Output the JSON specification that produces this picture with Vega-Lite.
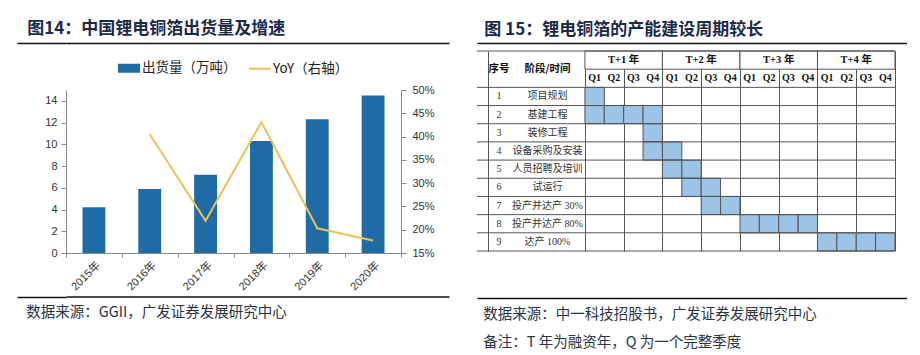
{
  "$schema": "https://vega.github.io/schema/vega-lite/v6.json",
  "background": "white",
  "padding": {"left": 16, "top": 20, "right": 0, "bottom": 0},
  "datasets": {
    "ship": [
      {"year": "2015年", "ship": 4.2, "yoy": null},
      {"year": "2016年", "ship": 5.9, "yoy": 0.405},
      {"year": "2017年", "ship": 7.2, "yoy": 0.219},
      {"year": "2018年", "ship": 10.3, "yoy": 0.431},
      {"year": "2019年", "ship": 12.3, "yoy": 0.203},
      {"year": "2020年", "ship": 14.5, "yoy": 0.177}
    ],
    "stages": [
      {"no": "1", "name": "项目规划"},
      {"no": "2", "name": "基建工程"},
      {"no": "3", "name": "装修工程"},
      {"no": "4", "name": "设备采购及安装"},
      {"no": "5", "name": "人员招聘及培训"},
      {"no": "6", "name": "试运行"},
      {"no": "7", "name": "投产并达产 30%"},
      {"no": "8", "name": "投产并达产 80%"},
      {"no": "9", "name": "达产 100%"}
    ],
    "cells": [
      {"no": "1", "from": 0, "to": 1},
      {"no": "2", "from": 0, "to": 1},
      {"no": "2", "from": 1, "to": 2},
      {"no": "2", "from": 2, "to": 3},
      {"no": "2", "from": 3, "to": 4},
      {"no": "3", "from": 3, "to": 4},
      {"no": "4", "from": 3, "to": 4},
      {"no": "4", "from": 4, "to": 5},
      {"no": "5", "from": 4, "to": 5},
      {"no": "5", "from": 5, "to": 6},
      {"no": "6", "from": 5, "to": 6},
      {"no": "6", "from": 6, "to": 7},
      {"no": "7", "from": 6, "to": 7},
      {"no": "7", "from": 7, "to": 8},
      {"no": "8", "from": 8, "to": 9},
      {"no": "8", "from": 9, "to": 10},
      {"no": "8", "from": 10, "to": 11},
      {"no": "8", "from": 11, "to": 12},
      {"no": "9", "from": 12, "to": 13},
      {"no": "9", "from": 13, "to": 14},
      {"no": "9", "from": 14, "to": 15},
      {"no": "9", "from": 15, "to": 16}
    ],
    "years": [
      {"year": "T+1 年", "from": 0, "to": 4, "mid": 2},
      {"year": "T+2 年", "from": 4, "to": 8, "mid": 6},
      {"year": "T+3 年", "from": 8, "to": 12, "mid": 10},
      {"year": "T+4 年", "from": 12, "to": 16, "mid": 14}
    ],
    "quarters": [
      {"q": "Q1", "t": 0.5}, {"q": "Q2", "t": 1.5}, {"q": "Q3", "t": 2.5}, {"q": "Q4", "t": 3.5},
      {"q": "Q1", "t": 4.5}, {"q": "Q2", "t": 5.5}, {"q": "Q3", "t": 6.5}, {"q": "Q4", "t": 7.5},
      {"q": "Q1", "t": 8.5}, {"q": "Q2", "t": 9.5}, {"q": "Q3", "t": 10.5}, {"q": "Q4", "t": 11.5},
      {"q": "Q1", "t": 12.5}, {"q": "Q2", "t": 13.5}, {"q": "Q3", "t": 14.5}, {"q": "Q4", "t": 15.5}
    ]
  },
  "config": {
    "view": {"stroke": null},
    "font": "Noto Sans CJK SC",
    "legend": {"layout": {"top": {"anchor": "middle"}}},
    "axis": {
      "labelFont": "Liberation Sans, Noto Sans CJK SC",
      "labelFontSize": 11,
      "labelColor": "#333333",
      "domainColor": "#8a8a8a",
      "tickColor": "#8a8a8a"
    }
  },
  "spacing": 25,
  "resolve": {"scale": {"color": "independent"}, "legend": {"color": "independent"}},
  "hconcat": [
    {
      "spacing": 0,
      "resolve": {"scale": {"color": "independent"}, "legend": {"color": "independent"}},
      "vconcat": [
        {
          "width": 383,
          "height": 11,
          "title": {"text": "图14：中国锂电铜箔出货量及增速", "anchor": "start", "dx": 11, "offset": 4, "fontSize": 17, "fontWeight": "bold", "color": "#1B2A4A", "font": "Noto Sans CJK SC"},
          "data": {"values": [{}]},
          "mark": {"type": "point", "opacity": 0},
          "encoding": {
            "x": {"datum": 0, "type": "quantitative", "scale": {"domain": [0, 1]},
              "axis": {"orient": "top", "domain": true, "domainColor": "#111111", "domainWidth": 1.5, "ticks": false, "labels": false, "grid": false, "title": null}},
            "y": {"datum": 0, "type": "quantitative", "scale": {"domain": [0, 1]},
              "axis": {"orient": "left", "domain": false, "ticks": true, "values": [1], "tickSize": 49, "tickColor": "#111111", "tickWidth": 1.5, "labels": false, "grid": false, "title": null, "minExtent": 49}}
          }
        },
        {
          "width": 335,
          "height": 163,
          "data": {"name": "ship"},
          "encoding": {
            "x": {
              "field": "year", "type": "nominal", "sort": null,
              "scale": {"paddingInner": 0, "paddingOuter": 0},
              "axis": {"title": null, "labelAngle": -45, "tickBand": "extent", "tickSize": 4, "labelPadding": 2, "grid": false}
            }
          },
          "layer": [
            {
              "mark": {"type": "bar", "width": {"band": 0.41}},
              "encoding": {
                "y": {
                  "field": "ship", "type": "quantitative",
                  "scale": {"domain": [0, 15], "nice": false},
                  "axis": {"title": null, "values": [0, 2, 4, 6, 8, 10, 12, 14], "tickSize": 5, "labelPadding": 4, "minExtent": 49, "grid": false}
                },
                "color": {
                  "datum": "出货量（万吨）", "type": "nominal",
                  "scale": {"domain": ["出货量（万吨）", "YoY（右轴）"], "range": ["#1F6BA5", "#E8C25A"]},
                  "legend": {
                    "orient": "top", "direction": "horizontal", "title": null, "offset": 14,
                    "labelFont": "Noto Sans CJK SC", "labelFontSize": 13.5, "labelColor": "#222222",
                    "symbolSize": 400, "columnPadding": 8, "labelOffset": 2,
                    "encode": {
                      "symbols": {
                        "update": {
                          "shape": {"signal": "datum.value === 'YoY（右轴）' ? 'M-1.1,0H1.1' : 'M-1,-0.35H1V0.35H-1Z'"},
                          "fill": {"signal": "datum.value === 'YoY（右轴）' ? 'transparent' : '#1F6BA5'"},
                          "stroke": {"signal": "datum.value === 'YoY（右轴）' ? '#E8C25A' : 'transparent'"},
                          "strokeWidth": {"value": 2},
                          "opacity": {"value": 1}
                        }
                      }
                    }
                  }
                }
              }
            },
            {
              "mark": {"type": "line", "strokeWidth": 2},
              "encoding": {
                "y": {
                  "field": "yoy", "type": "quantitative",
                  "scale": {"domain": [0.15, 0.5], "nice": false, "zero": false},
                  "axis": {"orient": "right", "title": null, "format": ".0%", "values": [0.15, 0.2, 0.25, 0.3, 0.35, 0.4, 0.45, 0.5], "tickSize": 5, "labelPadding": 6, "grid": false}
                },
                "color": {"datum": "YoY（右轴）", "type": "nominal"}
              }
            }
          ],
          "resolve": {"scale": {"y": "independent"}}
        },
        {
          "width": 383,
          "height": 4.5,
          "title": {"text": "数据来源：GGII，广发证券发展研究中心", "orient": "bottom", "anchor": "start", "dx": 10, "offset": 7, "fontSize": 14.5, "fontWeight": "normal", "color": "#2B3447", "font": "Noto Sans CJK SC"},
          "data": {"values": [{}]},
          "mark": {"type": "point", "opacity": 0},
          "encoding": {
            "x": {"datum": 0, "type": "quantitative", "scale": {"domain": [0, 1]},
              "axis": {"orient": "bottom", "domain": true, "domainColor": "#111111", "domainWidth": 1.5, "ticks": false, "labels": false, "grid": false, "title": null}},
            "y": {"datum": 0, "type": "quantitative", "scale": {"domain": [0, 1]},
              "axis": {"orient": "left", "domain": false, "ticks": true, "values": [0], "tickSize": 49, "tickColor": "#111111", "tickWidth": 1.5, "labels": false, "grid": false, "title": null, "minExtent": 49}}
          }
        }
      ]
    },
    {
      "spacing": 0,
      "vconcat": [
        {
          "width": 430,
          "height": 4,
          "title": {"text": "图 15：锂电铜箔的产能建设周期较长", "anchor": "start", "dx": 10, "offset": 4, "fontSize": 17, "fontWeight": "bold", "color": "#1B2A4A", "font": "Noto Sans CJK SC"},
          "data": {"values": [{}]},
          "mark": {"type": "point", "opacity": 0},
          "encoding": {
            "x": {"datum": 0, "type": "quantitative", "scale": {"domain": [0, 1]},
              "axis": {"orient": "top", "domain": true, "domainColor": "#111111", "domainWidth": 1.5, "ticks": false, "labels": false, "grid": false, "title": null}},
            "y": {"datum": 0, "type": "quantitative", "scale": {"domain": [0, 1]}, "axis": null}
          }
        },
        {
          "width": 418,
          "height": 200,
          "layer": [
            {
              "data": {"name": "cells"},
              "mark": {"type": "rect", "fill": "#9DC3E6", "stroke": "#555555", "strokeWidth": 1},
              "encoding": {
                "x": {
                  "field": "from", "type": "quantitative",
                  "scale": {"domain": [-5.568, 16], "nice": false, "zero": false},
                  "axis": {"values": [-5, -3.87, 0, 1, 2, 3, 4, 5, 6, 7, 8, 9, 10, 11, 12, 13, 14, 15, 16], "grid": true, "gridColor": "#555555", "gridWidth": 1, "gridOpacity": 1, "labels": false, "ticks": false, "domain": false, "title": null}
                },
                "x2": {"field": "to"},
                "y": {
                  "field": "no", "type": "nominal",
                  "scale": {"domain": ["h1", "h2", "1", "2", "3", "4", "5", "6", "7", "8", "9"], "paddingInner": 0, "paddingOuter": 0},
                  "axis": null
                }
              }
            },
            {
              "data": {"name": "years"},
              "mark": {"type": "rect", "fill": "white", "stroke": "#555555", "strokeWidth": 1},
              "encoding": {
                "x": {"field": "from", "type": "quantitative"},
                "x2": {"field": "to"},
                "y": {"datum": "h1", "type": "nominal"}
              }
            },
            {
              "data": {"name": "stages"},
              "mark": {"type": "rule", "color": "#555555", "strokeWidth": 1},
              "encoding": {"y": {"field": "no", "type": "nominal", "bandPosition": 0}}
            },
            {
              "data": {"values": [{}]},
              "mark": {"type": "rule", "color": "#555555", "strokeWidth": 1},
              "encoding": {"y": {"datum": "h1", "type": "nominal", "bandPosition": 0}}
            },
            {
              "data": {"values": [{}]},
              "mark": {"type": "rule", "color": "#555555", "strokeWidth": 1},
              "encoding": {"y": {"datum": "9", "type": "nominal", "bandPosition": 1}}
            },
            {
              "data": {"name": "years"},
              "mark": {"type": "text", "font": "Liberation Serif, Noto Sans CJK SC", "fontWeight": "bold", "fontSize": 10.5, "color": "#111111"},
              "encoding": {
                "x": {"field": "mid", "type": "quantitative"},
                "y": {"datum": "h1", "type": "nominal"},
                "text": {"field": "year"}
              }
            },
            {
              "data": {"name": "quarters"},
              "mark": {"type": "text", "font": "Liberation Serif", "fontWeight": "bold", "fontSize": 10, "color": "#111111"},
              "encoding": {
                "x": {"field": "t", "type": "quantitative"},
                "y": {"datum": "h2", "type": "nominal"},
                "text": {"field": "q"}
              }
            },
            {
              "data": {"values": [{}]},
              "mark": {"type": "text", "font": "Noto Sans CJK SC", "fontWeight": "bold", "fontSize": 10.5, "color": "#111111"},
              "encoding": {
                "x": {"datum": -4.435, "type": "quantitative"},
                "y": {"datum": "h2", "type": "nominal", "bandPosition": 0},
                "text": {"value": "序号"}
              }
            },
            {
              "data": {"values": [{}]},
              "mark": {"type": "text", "font": "Noto Sans CJK SC", "fontWeight": "bold", "fontSize": 10.5, "color": "#111111"},
              "encoding": {
                "x": {"datum": -1.935, "type": "quantitative"},
                "y": {"datum": "h2", "type": "nominal", "bandPosition": 0},
                "text": {"value": "阶段/时间"}
              }
            },
            {
              "data": {"name": "stages"},
              "mark": {"type": "text", "font": "Liberation Serif", "fontSize": 10, "color": "#333333"},
              "encoding": {
                "x": {"datum": -4.435, "type": "quantitative"},
                "y": {"field": "no", "type": "nominal"},
                "text": {"field": "no"}
              }
            },
            {
              "data": {"name": "stages"},
              "mark": {"type": "text", "font": "Liberation Serif, Noto Sans CJK SC", "fontSize": 10, "color": "#333333"},
              "encoding": {
                "x": {"datum": -1.935, "type": "quantitative"},
                "y": {"field": "no", "type": "nominal"},
                "text": {"field": "name"}
              }
            }
          ]
        },
        {
          "width": 430,
          "height": 46,
          "title": {"text": ["数据来源：中一科技招股书，广发证券发展研究中心", "备注：T 年为融资年，Q 为一个完整季度"], "orient": "bottom", "anchor": "start", "dx": 9, "offset": 7, "lineHeight": 28, "fontSize": 14.5, "fontWeight": "normal", "color": "#2B3447", "font": "Noto Sans CJK SC"},
          "data": {"values": [{}]},
          "mark": {"type": "point", "opacity": 0},
          "encoding": {
            "x": {"datum": 0, "type": "quantitative", "scale": {"domain": [0, 1]},
              "axis": {"orient": "bottom", "domain": true, "domainColor": "#111111", "domainWidth": 1.5, "ticks": false, "labels": false, "grid": false, "title": null}},
            "y": {"datum": 0, "type": "quantitative", "scale": {"domain": [0, 1]}, "axis": null}
          }
        }
      ]
    }
  ]
}
